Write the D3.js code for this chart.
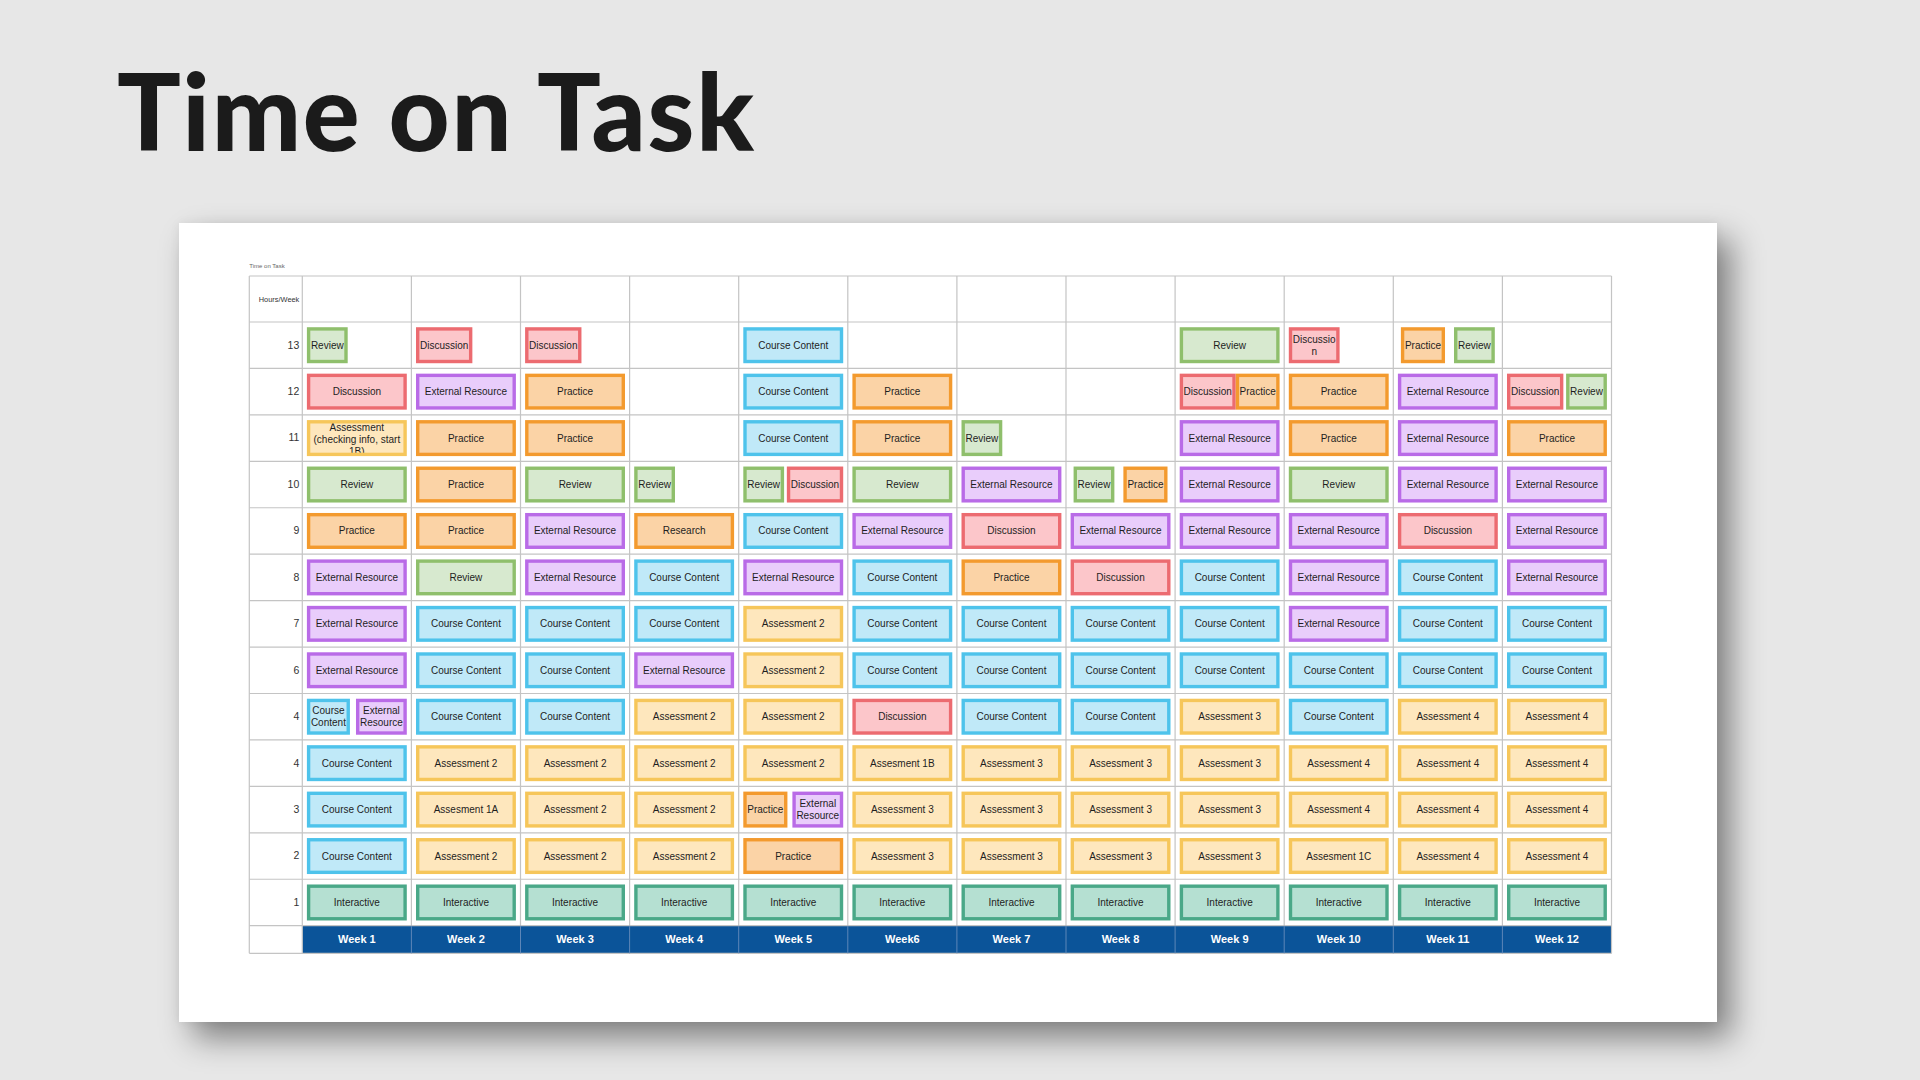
<!DOCTYPE html>
<html>
<head>
<meta charset="utf-8">
<script src="https://cdn.jsdelivr.net/npm/d3@7"></script>
<style>
html,body{margin:0;padding:0;width:1920px;height:1080px;overflow:hidden;background:#e7e7e7;}
#card{position:absolute;left:179px;top:223px;width:1538px;height:799px;background:#fff;
  box-shadow:14px 16px 30px rgba(0,0,0,0.45), 0 0 10px rgba(0,0,0,0.06);}
svg{position:absolute;left:0;top:0;}
</style>
</head>
<body>
<div id="card"></div>
<svg id="chart" width="1920" height="1080"></svg>
<script>
// ---------------- DATA ----------------
const chartTitle = "Time on Task";
const tableCaption = "Time on Task";
const rowHeader = "Hours/Week";
const weeks = ["Week 1","Week 2","Week 3","Week 4","Week 5","Week6","Week 7","Week 8","Week 9","Week 10","Week 11","Week 12"];
const hourRows = ["13","12","11","10","9","8","7","6","4","4","3","2","1"];
const categories = ["Review","Discussion","External Resource","Practice","Research","Course Content","Assessment","Interactive"];

// one entry per hour row (top to bottom); "|" separates activities sharing a cell, "~" marks a short activity
const week1 = ["~Review","Discussion","Assessment (checking info, start 1B)","Review","Practice","External Resource","External Resource","External Resource","Course\nContent | External\nResource","Course Content","Course Content","Course Content","Interactive"];
const week2 = ["~Discussion","External Resource","Practice","Practice","Practice","Review","Course Content","Course Content","Course Content","Assessment 2","Assesment 1A","Assessment 2","Interactive"];
const week3 = ["~Discussion","Practice","Practice","Review","External Resource","External Resource","Course Content","Course Content","Course Content","Assessment 2","Assessment 2","Assessment 2","Interactive"];
const week4 = ["","","","~Review","Research","Course Content","Course Content","External Resource","Assessment 2","Assessment 2","Assessment 2","Assessment 2","Interactive"];
const week5 = ["Course Content","Course Content","Course Content","Review | Discussion","Course Content","External Resource","Assessment 2","Assessment 2","Assessment 2","Assessment 2","Practice | External\nResource","Practice","Interactive"];
const week6 = ["","Practice","Practice","Review","External Resource","Course Content","Course Content","Course Content","Discussion","Assesment 1B","Assessment 3","Assessment 3","Interactive"];
const week7 = ["","","~Review","External Resource","Discussion","Practice","Course Content","Course Content","Course Content","Assessment 3","Assessment 3","Assessment 3","Interactive"];
const week8 = ["","","","Review | Practice","External Resource","Discussion","Course Content","Course Content","Course Content","Assessment 3","Assessment 3","Assessment 3","Interactive"];
const week9 = ["Review","Discussion | Practice","External Resource","External Resource","External Resource","Course Content","Course Content","Course Content","Assessment 3","Assessment 3","Assessment 3","Assessment 3","Interactive"];
const week10 = ["~Discussio\nn","Practice","Practice","Review","External Resource","External Resource","External Resource","Course Content","Course Content","Assessment 4","Assessment 4","Assesment 1C","Interactive"];
const week11 = ["Practice | Review","External Resource","External Resource","External Resource","Discussion","Course Content","Course Content","Course Content","Assessment 4","Assessment 4","Assessment 4","Assessment 4","Interactive"];
const week12 = ["","Discussion | Review","Practice","External Resource","External Resource","External Resource","Course Content","Course Content","Assessment 4","Assessment 4","Assessment 4","Assessment 4","Interactive"];
const schedule = [week1,week2,week3,week4,week5,week6,week7,week8,week9,week10,week11,week12];

// ---------------- STYLE / LAYOUT ----------------
const fills   = ["#d7e9cf","#fcc6ca","#e9cdfb","#fbd3a6","#fbd3a6","#c0e9f8","#fee7bd","#b5e0d2"];
const strokes = ["#8fbf6c","#ec6b70","#b96be7","#f39a2e","#f39a2e","#4ec3eb","#f6c65a","#4aa888"];
const L = {
  tableLeft: 249.3, labelRight: 302.3, tableRight: 1611.5,
  tableTop: 276, headTop: 322, bodyBottom: 925.7, tableBottom: 953.3,
  inset: 4.6, boxH: 36, sw: 3.4, font: 10, lh: 11.7, maxGap: 9
};
const FONT = "'Liberation Sans', Arial, Helvetica, sans-serif";

function categoryOf(label){
  const l = label.replace(/\n/g," ");
  if (/^Asses/.test(l)) return "Assessment";
  if (/^Discussio/.test(l)) return "Discussion";
  if (/^Course/.test(l)) return "Course Content";
  if (/^External/.test(l)) return "External Resource";
  if (/^Practice/.test(l)) return "Practice";
  if (/^Research/.test(l)) return "Research";
  if (/^Review/.test(l)) return "Review";
  if (/^Interactive/.test(l)) return "Interactive";
  return "Assessment";
}
const fillScale = d3.scaleOrdinal().domain(categories).range(fills);
const strokeScale = d3.scaleOrdinal().domain(categories).range(strokes);

const svg = d3.select("#chart");

// text measuring
const meas = svg.append("text").attr("font-family",FONT).attr("font-size",L.font).attr("visibility","hidden");
function tw(s){ meas.text(s); return meas.node().getComputedTextLength(); }
function wrap(text, maxW){
  const out=[];
  text.split("\n").forEach(par=>{
    const words = par.split(" ");
    let line = "";
    words.forEach(w=>{
      const t = line ? line+" "+w : w;
      if (line && tw(t) > maxW){ out.push(line); line = w; } else line = t;
    });
    out.push(line);
  });
  return out;
}

// ---------------- TITLE ----------------
const title = svg.append("text").attr("x",117).attr("y",151)
  .attr("font-family","Lato, 'Noto Sans', sans-serif").attr("font-weight",900)
  .attr("font-size",106).attr("fill","#1b1b1b").text(chartTitle);
{
  const w = title.node().getComputedTextLength();
  const target = 637;
  title.attr("letter-spacing", ((target - w)/(chartTitle.length-1)).toFixed(2));
}

// ---------------- SCALES ----------------
const x = d3.scaleBand().domain(weeks).range([L.labelRight, L.tableRight]).padding(0);
const y = d3.scaleBand().domain(d3.range(hourRows.length)).range([L.headTop, L.bodyBottom]).padding(0);

// small caption
svg.append("text").attr("x",L.tableLeft).attr("y",267.5).attr("font-family",FONT)
  .attr("font-size",6).attr("fill","#666").text(tableCaption);

// week header background
svg.append("rect").attr("x",L.labelRight).attr("y",L.bodyBottom)
  .attr("width",L.tableRight-L.labelRight).attr("height",L.tableBottom-L.bodyBottom).attr("fill","#0b5499");

// grid
const grid = svg.append("g").attr("stroke","#c4c4c4").attr("stroke-width",1.2).attr("fill","none");
const hLines = [L.tableTop, L.headTop].concat(d3.range(hourRows.length).map(i=>y(i)+y.bandwidth()));
grid.selectAll("line.h").data(hLines).join("line").attr("class","h")
  .attr("x1",L.tableLeft).attr("x2",L.tableRight).attr("y1",d=>d).attr("y2",d=>d);
grid.append("line").attr("x1",L.tableLeft).attr("x2",L.tableRight).attr("y1",L.tableBottom).attr("y2",L.tableBottom);
grid.selectAll("line.v").data(weeks.slice(1)).join("line").attr("class","v")
  .attr("x1",d=>x(d)).attr("x2",d=>x(d)).attr("y1",L.tableTop).attr("y2",L.bodyBottom);
grid.selectAll("line.vh").data(weeks.slice(1)).join("line").attr("class","vh")
  .attr("stroke","#5d86b8").attr("stroke-width",1)
  .attr("x1",d=>x(d)).attr("x2",d=>x(d)).attr("y1",L.bodyBottom).attr("y2",L.tableBottom);
[L.tableLeft, L.labelRight, L.tableRight].forEach(v=>{
  grid.append("line").attr("x1",v).attr("x2",v).attr("y1",L.tableTop).attr("y2",L.tableBottom);
});

// row header text
svg.append("text").attr("x",L.labelRight-3).attr("y",(L.tableTop+L.headTop)/2).attr("dy","0.35em")
  .attr("text-anchor","end").attr("font-family",FONT).attr("font-size",7.4).attr("fill","#333").text(rowHeader);

// axes
const yAxis = svg.append("g").attr("transform",`translate(${L.labelRight},0)`)
  .call(d3.axisLeft(y).tickSize(0).tickPadding(3).tickFormat(i=>hourRows[i]));
yAxis.select(".domain").remove();
yAxis.selectAll("text").attr("font-family",FONT).attr("font-size",10.5).attr("fill","#333");

const xAxis = svg.append("g").attr("transform",`translate(0,${(L.bodyBottom+L.tableBottom)/2})`)
  .call(d3.axisBottom(x).tickSize(0));
xAxis.select(".domain").remove();
xAxis.selectAll("text").attr("y",0).attr("dy","0.36em").attr("font-family",FONT)
  .attr("font-size",11).attr("font-weight","bold").attr("fill","#fff");

// ---------------- BOXES ----------------
const boxes = [];
schedule.forEach((col, wi)=>{
  col.forEach((cell, ri)=>{
    if (!cell) return;
    const parts = cell.split(" | ");
    const x0 = x(weeks[wi]), w = x.bandwidth(), y0 = y(ri), h = y.bandwidth();
    const by = y0 + (h - L.boxH)/2;
    const items = parts.map(p=>{
      const fit = parts.length>1 || p.startsWith("~");
      const label = p.replace(/^~/,"");
      return {label, fit, cat: categoryOf(label)};
    });
    if (items.length===1 && !items[0].fit){
      const bw = w - 2*L.inset;
      items[0].bx = x0 + L.inset; items[0].bw = bw;
      items[0].lines = wrap(items[0].label, bw - 6);
    } else {
      items.forEach(it=>{
        it.lines = it.label.split("\n");
        it.bw = d3.max(it.lines, tw) + 8;
      });
      const avail = w - 2*L.inset;
      const sum = d3.sum(items, d=>d.bw);
      if (sum > avail) items.forEach(it=> it.bw *= avail/sum);
      if (items.length===1){
        items[0].bx = x0 + L.inset;
      } else {
        const total = d3.sum(items, d=>d.bw);
        const gap = Math.min(L.maxGap, (avail - total)/(items.length-1));
        const used = total + gap*(items.length-1);
        let cx = x0 + L.inset + (avail - used)/2;
        items.forEach(it=>{ it.bx = cx; cx += it.bw + gap; });
      }
    }
    items.forEach(it=>{ it.by = by; it.bh = L.boxH; boxes.push(it); });
  });
});

const defs = svg.append("defs");
defs.selectAll("clipPath").data(boxes).join("clipPath")
  .attr("id",(d,i)=>"clip"+i)
  .append("rect").attr("x",d=>d.bx).attr("y",d=>d.by).attr("width",d=>d.bw).attr("height",d=>d.bh);

const bg = svg.append("g").selectAll("g").data(boxes).join("g");
bg.append("rect")
  .attr("x",d=>d.bx+L.sw/2).attr("y",d=>d.by+L.sw/2)
  .attr("width",d=>d.bw-L.sw).attr("height",d=>d.bh-L.sw)
  .attr("fill",d=>fillScale(d.cat));
bg.append("text")
  .attr("clip-path",(d,i)=>`url(#clip${i})`)
  .attr("font-family",FONT).attr("font-size",L.font).attr("fill","#1e1e1e")
  .attr("text-anchor","middle")
  .each(function(d){
    const t = d3.select(this);
    const cx = d.bx + d.bw/2, cy = d.by + d.bh/2;
    const n = d.lines.length;
    d.lines.forEach((ln,k)=>{
      t.append("tspan").attr("x",cx).attr("y", cy + (k-(n-1)/2)*L.lh + (n>2?1.3:0)).attr("dy","0.35em").text(ln);
    });
  });
bg.append("rect")
  .attr("x",d=>d.bx+L.sw/2).attr("y",d=>d.by+L.sw/2)
  .attr("width",d=>d.bw-L.sw).attr("height",d=>d.bh-L.sw)
  .attr("fill","none").attr("stroke",d=>strokeScale(d.cat)).attr("stroke-width",L.sw);

meas.remove();
</script>
</body>
</html>
